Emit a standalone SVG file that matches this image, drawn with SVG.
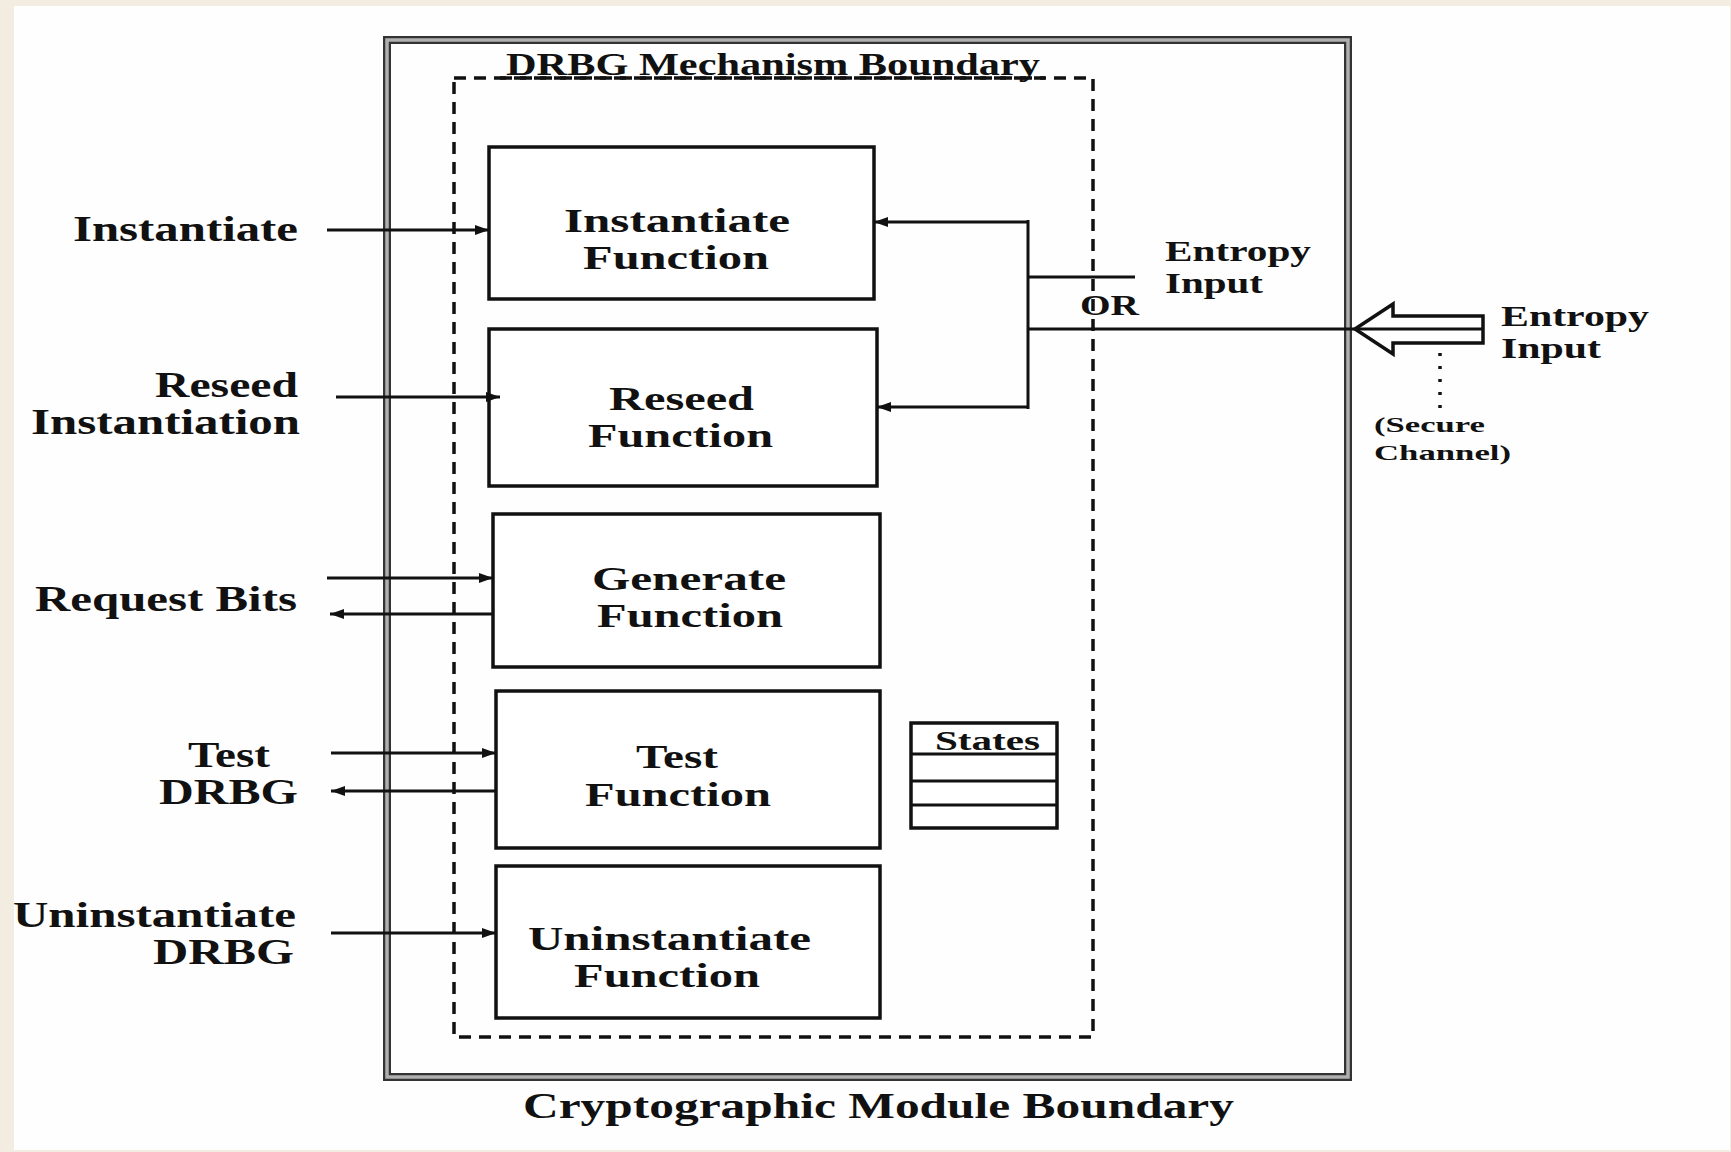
<svg xmlns="http://www.w3.org/2000/svg" width="1731" height="1152" viewBox="0 0 1731 1152">
<defs>
<style>
text{font-family:"Liberation Serif","Times New Roman",serif;font-weight:bold;fill:#111;}
.lbl{font-size:36px;}
.bt{font-size:33px;}
.sm{font-size:30px;}
.xs{font-size:22px;}
.box{fill:#fff;stroke:#111;stroke-width:3.5;}
.ln{fill:none;stroke:#111;stroke-width:3;}
</style>
<marker id="ah" viewBox="0 0 14 10" refX="14" refY="5" markerWidth="14" markerHeight="10" markerUnits="userSpaceOnUse" orient="auto">
<path d="M0,0 L14,5 L0,10 Z" fill="#111"/>
</marker>
</defs>
<rect x="0" y="0" width="1731" height="1152" fill="#f3ece1"/>
<rect x="14" y="6" width="1716" height="1144" fill="#fefefe"/>

<g id="module-boundary">
<rect x="387" y="40" width="961" height="1037" fill="none" stroke="#333" stroke-width="8"/>
<rect x="387" y="40" width="961" height="1037" fill="none" stroke="#b0b0b0" stroke-width="3.5"/>
<text class="lbl" x="523" y="1118" textLength="711" lengthAdjust="spacingAndGlyphs">Cryptographic Module Boundary</text>
</g>

<g id="drbg-boundary">
<rect x="454" y="78" width="639" height="959" fill="none" stroke="#111" stroke-width="3.5" stroke-dasharray="12 8"/>
<rect x="500" y="50" width="545" height="26" fill="#fefefe"/>
<text x="506" y="75" style="font-size:32px" textLength="534" lengthAdjust="spacingAndGlyphs">DRBG Mechanism Boundary</text>
<line x1="500" y1="78" x2="1045" y2="78" stroke="#111" stroke-width="3.5" stroke-dasharray="12 8"/>
</g>

<g id="instantiate-function">
<rect class="box" x="489" y="147" width="385" height="152"/>
<text class="bt" x="564" y="232" textLength="226" lengthAdjust="spacingAndGlyphs">Instantiate</text>
<text class="bt" x="583" y="269" textLength="186" lengthAdjust="spacingAndGlyphs">Function</text>
</g>

<g id="reseed-function">
<rect class="box" x="489" y="329" width="388" height="157"/>
<text class="bt" x="609" y="410" textLength="145" lengthAdjust="spacingAndGlyphs">Reseed</text>
<text class="bt" x="588" y="447" textLength="185" lengthAdjust="spacingAndGlyphs">Function</text>
</g>

<g id="generate-function">
<rect class="box" x="493" y="514" width="387" height="153"/>
<text class="bt" x="592" y="590" textLength="194" lengthAdjust="spacingAndGlyphs">Generate</text>
<text class="bt" x="597" y="627" textLength="186" lengthAdjust="spacingAndGlyphs">Function</text>
</g>

<g id="test-function">
<rect class="box" x="496" y="691" width="384" height="157"/>
<text class="bt" x="636" y="768" textLength="82" lengthAdjust="spacingAndGlyphs">Test</text>
<text class="bt" x="585" y="806" textLength="186" lengthAdjust="spacingAndGlyphs">Function</text>
</g>

<g id="uninstantiate-function">
<rect class="box" x="496" y="866" width="384" height="152"/>
<text class="bt" x="528" y="950" textLength="283" lengthAdjust="spacingAndGlyphs">Uninstantiate</text>
<text class="bt" x="574" y="987" textLength="186" lengthAdjust="spacingAndGlyphs">Function</text>
</g>

<g id="states">
<rect class="box" x="911" y="723" width="146" height="105"/>
<line class="ln" x1="911" y1="754" x2="1057" y2="754"/>
<line class="ln" x1="911" y1="781" x2="1057" y2="781"/>
<line class="ln" x1="911" y1="805" x2="1057" y2="805"/>
<text x="935" y="750" style="font-size:28px" textLength="105" lengthAdjust="spacingAndGlyphs">States</text>
</g>

<g id="labels-left">
<text class="lbl" x="73" y="241" textLength="225" lengthAdjust="spacingAndGlyphs">Instantiate</text>
<text class="lbl" x="155" y="397" textLength="143" lengthAdjust="spacingAndGlyphs">Reseed</text>
<text class="lbl" x="31" y="434" textLength="269" lengthAdjust="spacingAndGlyphs">Instantiation</text>
<text class="lbl" x="35" y="611" textLength="262" lengthAdjust="spacingAndGlyphs">Request Bits</text>
<text class="lbl" x="188" y="767" textLength="82" lengthAdjust="spacingAndGlyphs">Test</text>
<text class="lbl" x="159" y="804" textLength="139" lengthAdjust="spacingAndGlyphs">DRBG</text>
<text class="lbl" x="13" y="927" textLength="283" lengthAdjust="spacingAndGlyphs">Uninstantiate</text>
<text class="lbl" x="153" y="964" textLength="141" lengthAdjust="spacingAndGlyphs">DRBG</text>
</g>

<g id="entropy-labels">
<text class="sm" x="1165" y="261" textLength="146" lengthAdjust="spacingAndGlyphs">Entropy</text>
<text class="sm" x="1165" y="293" textLength="98" lengthAdjust="spacingAndGlyphs">Input</text>
<text class="sm" x="1080" y="315" textLength="59" lengthAdjust="spacingAndGlyphs">OR</text>
<text class="sm" x="1501" y="326" textLength="148" lengthAdjust="spacingAndGlyphs">Entropy</text>
<text class="sm" x="1501" y="358" textLength="100" lengthAdjust="spacingAndGlyphs">Input</text>
<text class="xs" x="1374" y="432" textLength="111" lengthAdjust="spacingAndGlyphs">(Secure</text>
<text class="xs" x="1374" y="460" textLength="137" lengthAdjust="spacingAndGlyphs">Channel)</text>
</g>

<g id="connectors">
<line class="ln" x1="327" y1="230" x2="489" y2="230" marker-end="url(#ah)"/>
<line class="ln" x1="336" y1="397" x2="500" y2="397" marker-end="url(#ah)"/>
<line class="ln" x1="327" y1="578" x2="493" y2="578" marker-end="url(#ah)"/>
<line class="ln" x1="493" y1="614" x2="330" y2="614" marker-end="url(#ah)"/>
<line class="ln" x1="331" y1="753" x2="496" y2="753" marker-end="url(#ah)"/>
<line class="ln" x1="496" y1="791" x2="331" y2="791" marker-end="url(#ah)"/>
<line class="ln" x1="331" y1="933" x2="496" y2="933" marker-end="url(#ah)"/>
<polyline class="ln" points="1028,222 874,222" marker-end="url(#ah)"/>
<polyline class="ln" points="1028,407 877,407" marker-end="url(#ah)"/>
<line class="ln" x1="1028" y1="220" x2="1028" y2="409"/>
<line class="ln" x1="1028" y1="277" x2="1135" y2="277"/>
<line class="ln" x1="1028" y1="329" x2="1483" y2="329"/>
<path d="M1355,329 L1393,304 L1393,316 L1483,316 L1483,343 L1393,343 L1393,354 Z" fill="none" stroke="#111" stroke-width="3.5" stroke-linejoin="miter"/>
<line x1="1440" y1="353" x2="1440" y2="412" stroke="#111" stroke-width="3.5" stroke-dasharray="3 10"/>
</g>
</svg>
